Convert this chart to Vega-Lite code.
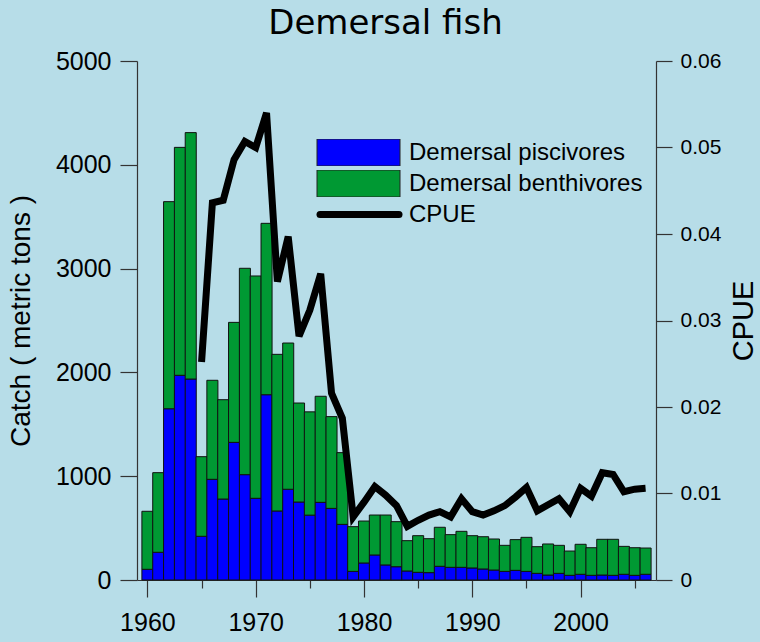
{
  "$schema": "https://vega.github.io/schema/vega-lite/v6.json",
  "width": 519,
  "height": 519,
  "autosize": {"type": "none"},
  "padding": {"left": 137, "top": 61, "right": 104, "bottom": 62},
  "background": "#b7dde8",
  "config": {
    "view": {"stroke": null},
    "axis": {"grid": false, "labelFont": "Liberation Sans", "titleFont": "Liberation Sans", "labelColor": "#000", "titleColor": "#000", "domainColor": "#333", "tickColor": "#333", "titleFontWeight": "normal", "domainWidth": 1.2, "tickWidth": 1.2}
  },
  "title": {"text": "Demersal fish", "font": "DejaVu Sans", "fontSize": 34, "fontWeight": "normal", "color": "#000", "anchor": "middle", "frame": "group", "offset": 8, "dx": -11},
  "datasets": {
    "fish": [
      {"year": 1960, "Demersal piscivores": 103, "Demersal benthivores": 559},
      {"year": 1961, "Demersal piscivores": 267, "Demersal benthivores": 767},
      {"year": 1962, "Demersal piscivores": 1650, "Demersal benthivores": 1995},
      {"year": 1963, "Demersal piscivores": 1972, "Demersal benthivores": 2196},
      {"year": 1964, "Demersal piscivores": 1936, "Demersal benthivores": 2374},
      {"year": 1965, "Demersal piscivores": 421, "Demersal benthivores": 767, "CPUE": 0.0252},
      {"year": 1966, "Demersal piscivores": 970, "Demersal benthivores": 954, "CPUE": 0.0436},
      {"year": 1967, "Demersal piscivores": 780, "Demersal benthivores": 957, "CPUE": 0.0439},
      {"year": 1968, "Demersal piscivores": 1326, "Demersal benthivores": 1156, "CPUE": 0.0486},
      {"year": 1969, "Demersal piscivores": 1015, "Demersal benthivores": 1988, "CPUE": 0.0507},
      {"year": 1970, "Demersal piscivores": 787, "Demersal benthivores": 2142, "CPUE": 0.0500},
      {"year": 1971, "Demersal piscivores": 1785, "Demersal benthivores": 1651, "CPUE": 0.0540},
      {"year": 1972, "Demersal piscivores": 665, "Demersal benthivores": 1509, "CPUE": 0.0345},
      {"year": 1973, "Demersal piscivores": 874, "Demersal benthivores": 1409, "CPUE": 0.0397},
      {"year": 1974, "Demersal piscivores": 751, "Demersal benthivores": 954, "CPUE": 0.0282},
      {"year": 1975, "Demersal piscivores": 625, "Demersal benthivores": 995, "CPUE": 0.0312},
      {"year": 1976, "Demersal piscivores": 748, "Demersal benthivores": 1022, "CPUE": 0.0354},
      {"year": 1977, "Demersal piscivores": 690, "Demersal benthivores": 884, "CPUE": 0.0216},
      {"year": 1978, "Demersal piscivores": 536, "Demersal benthivores": 691, "CPUE": 0.0187},
      {"year": 1979, "Demersal piscivores": 83, "Demersal benthivores": 431, "CPUE": 0.0073},
      {"year": 1980, "Demersal piscivores": 164, "Demersal benthivores": 404, "CPUE": 0.0090},
      {"year": 1981, "Demersal piscivores": 241, "Demersal benthivores": 385, "CPUE": 0.0108},
      {"year": 1982, "Demersal piscivores": 145, "Demersal benthivores": 481, "CPUE": 0.0098},
      {"year": 1983, "Demersal piscivores": 128, "Demersal benthivores": 434, "CPUE": 0.0086},
      {"year": 1984, "Demersal piscivores": 87, "Demersal benthivores": 292, "CPUE": 0.0062},
      {"year": 1985, "Demersal piscivores": 74, "Demersal benthivores": 353, "CPUE": 0.0069},
      {"year": 1986, "Demersal piscivores": 71, "Demersal benthivores": 327, "CPUE": 0.0075},
      {"year": 1987, "Demersal piscivores": 132, "Demersal benthivores": 376, "CPUE": 0.0079},
      {"year": 1988, "Demersal piscivores": 122, "Demersal benthivores": 315, "CPUE": 0.0073},
      {"year": 1989, "Demersal piscivores": 122, "Demersal benthivores": 347, "CPUE": 0.0094},
      {"year": 1990, "Demersal piscivores": 116, "Demersal benthivores": 311, "CPUE": 0.0079},
      {"year": 1991, "Demersal piscivores": 106, "Demersal benthivores": 311, "CPUE": 0.0075},
      {"year": 1992, "Demersal piscivores": 96, "Demersal benthivores": 299, "CPUE": 0.0080},
      {"year": 1993, "Demersal piscivores": 83, "Demersal benthivores": 251, "CPUE": 0.0086},
      {"year": 1994, "Demersal piscivores": 93, "Demersal benthivores": 296, "CPUE": 0.0096},
      {"year": 1995, "Demersal piscivores": 83, "Demersal benthivores": 328, "CPUE": 0.0107},
      {"year": 1996, "Demersal piscivores": 64, "Demersal benthivores": 257, "CPUE": 0.0080},
      {"year": 1997, "Demersal piscivores": 48, "Demersal benthivores": 299, "CPUE": 0.0087},
      {"year": 1998, "Demersal piscivores": 64, "Demersal benthivores": 270, "CPUE": 0.0094},
      {"year": 1999, "Demersal piscivores": 45, "Demersal benthivores": 234, "CPUE": 0.0079},
      {"year": 2000, "Demersal piscivores": 55, "Demersal benthivores": 289, "CPUE": 0.0106},
      {"year": 2001, "Demersal piscivores": 45, "Demersal benthivores": 266, "CPUE": 0.0097},
      {"year": 2002, "Demersal piscivores": 48, "Demersal benthivores": 344, "CPUE": 0.0124},
      {"year": 2003, "Demersal piscivores": 45, "Demersal benthivores": 347, "CPUE": 0.0122},
      {"year": 2004, "Demersal piscivores": 55, "Demersal benthivores": 269, "CPUE": 0.0102},
      {"year": 2005, "Demersal piscivores": 45, "Demersal benthivores": 266, "CPUE": 0.0105},
      {"year": 2006, "Demersal piscivores": 55, "Demersal benthivores": 253, "CPUE": 0.0106}
    ]
  },
  "data": {"name": "fish"},
  "layer": [
    {
      "transform": [{"fold": ["Demersal piscivores", "Demersal benthivores"], "as": ["group", "catch"]}],
      "mark": {"type": "bar", "width": 11.04, "stroke": "#111", "strokeWidth": 1},
      "encoding": {
        "x": {"field": "year", "type": "quantitative",
          "scale": {"domain": [1959.5, 2006.5], "nice": false, "zero": false},
          "axis": {"values": [1960, 1970, 1980, 1990, 2000], "format": "d", "tickSize": 17, "labelFontSize": 25, "labelPadding": 13, "title": null, "labelFlush": false, "labelOverlap": false}},
        "y": {"field": "catch", "type": "quantitative", "stack": "zero",
          "scale": {"domain": [0, 5000], "nice": false},
          "axis": {"values": [0, 1000, 2000, 3000, 4000, 5000], "tickSize": 17, "labelFontSize": 25, "labelPadding": 9, "title": "Catch ( metric tons )", "titleFontSize": 28, "titlePadding": 20, "format": "d", "labelOverlap": false}},
        "fill": {"field": "group", "type": "nominal",
          "scale": {"domain": ["Demersal piscivores", "Demersal benthivores"], "range": ["#0000ff", "#009933"]},
          "legend": {"orient": "none", "legendX": 168, "legendY": 78, "title": null, "symbolType": "M0,-13.5H83V13.5H0Z", "symbolSize": 4, "symbolStrokeColor": "#222", "symbolStrokeWidth": 1, "symbolOpacity": 1, "labelFontSize": 24, "labelFont": "Liberation Sans", "labelColor": "#000", "labelOffset": 80, "rowPadding": 4, "clipHeight": 27, "padding": 0, "labelLimit": 400}},
        "order": {"field": "group", "sort": "descending"}
      }
    },
    {
      "transform": [{"filter": {"field": "CPUE", "valid": true}}],
      "mark": {"type": "line", "strokeWidth": 7, "strokeJoin": "miter"},
      "encoding": {
        "x": {"field": "year", "type": "quantitative",
          "axis": {"orient": "bottom", "values": [1965, 1975, 1985, 1995, 2005], "tickSize": 8, "labels": false, "domain": false, "title": null}},
        "y": {"field": "CPUE", "type": "quantitative",
          "scale": {"domain": [0, 0.06], "nice": false},
          "axis": {"orient": "right", "values": [0, 0.01, 0.02, 0.03, 0.04, 0.05, 0.06], "format": ".2~f", "tickSize": 16, "labelFontSize": 21, "labelPadding": 8, "title": "CPUE", "titleFontSize": 29, "titleAngle": 270, "titleBaseline": "top", "titlePadding": 9, "labelOverlap": false}},
        "stroke": {"datum": "CPUE", "type": "nominal",
          "scale": {"range": ["#000000"]},
          "legend": {"orient": "none", "legendX": 168, "legendY": 140, "title": null, "symbolType": "M3,0H82", "symbolSize": 4, "symbolStrokeWidth": 7, "labelFontSize": 24, "labelFont": "Liberation Sans", "labelColor": "#000", "labelOffset": 80, "clipHeight": 27, "padding": 0, "encode": {"symbols": {"update": {"strokeCap": {"value": "round"}}}}}}
      }
    }
  ],
  "resolve": {"scale": {"y": "independent"}, "axis": {"x": "independent"}}
}
